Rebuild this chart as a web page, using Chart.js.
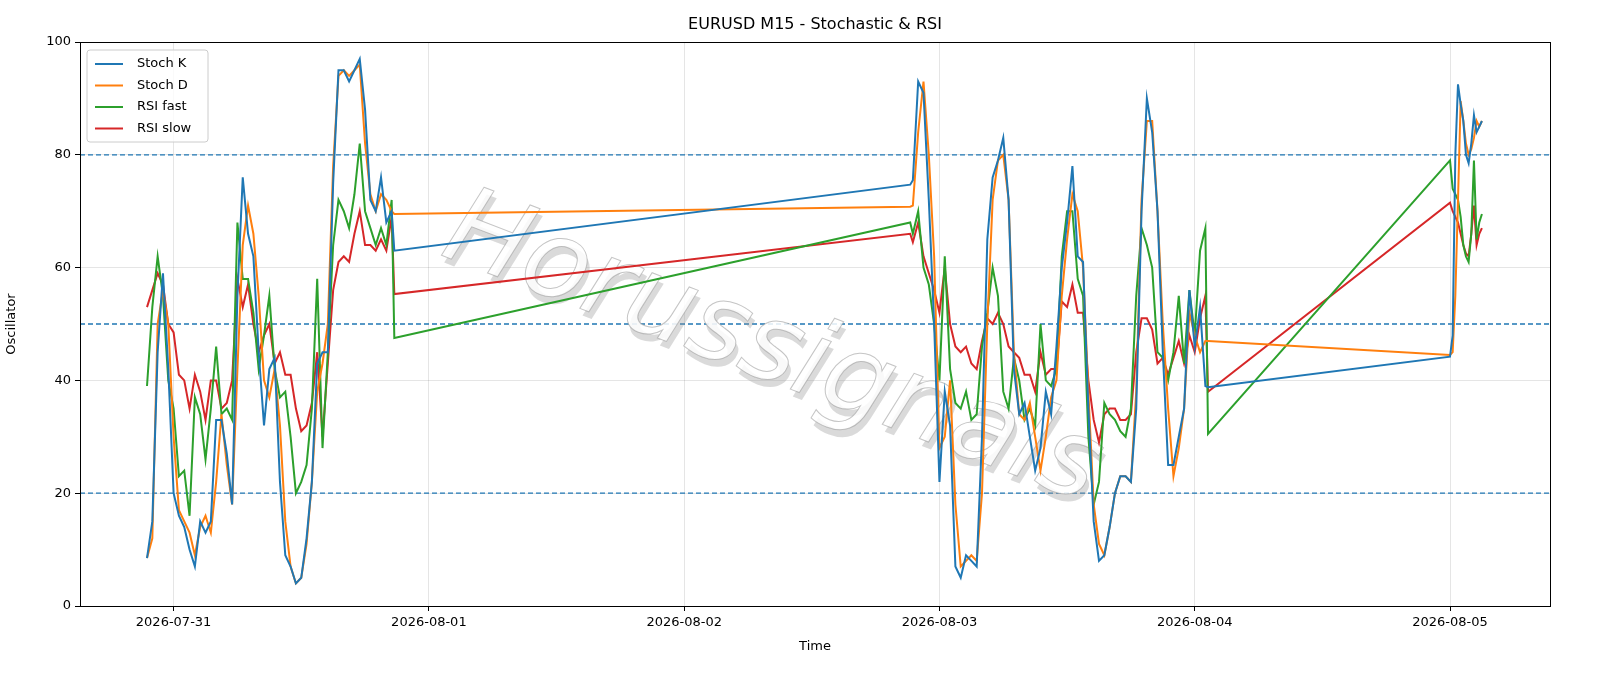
<!DOCTYPE html>
<html><head><meta charset="utf-8">
<script src="https://cdn.jsdelivr.net/npm/chart.js@4.4.1/dist/chart.umd.min.js"></script>
<style>html,body{margin:0;padding:0;background:#fff;overflow:hidden}#w{width:1600px;height:686px;position:relative}canvas{display:block}</style>
</head><body><div id="w"><canvas id="c"></canvas></div>
<script>
// hours since 2026-07-31 00:00
const times = [-2.5,-2,-1.5,-1,-0.5,0,0.5,1,1.5,2,2.5,3,3.5,4,4.5,5,5.5,6,6.5,7,7.5,8,8.5,9,9.5,10,10.5,11,11.5,12,12.5,13,13.5,14,14.5,15,15.5,16,16.5,17,17.5,18,18.5,19,19.5,20,20.5,20.75,
69.25,69.5,70,70.5,71,71.5,72,72.5,73,73.5,74,74.5,75,75.5,76,76.5,77,77.5,78,78.5,79,79.5,80,80.5,81,81.5,82,82.5,83,83.5,84,84.5,85,85.5,86,86.5,87,87.5,88,88.5,89,89.5,90,90.5,91,91.5,92,92.5,93,93.5,94,94.5,95,95.5,96,96.5,97,97.25,
120,120.25,120.5,120.75,121,121.25,121.5,121.75,122,122.25,122.5,122.75,123];
const stochK = [8.5,15,45,59,42,20,16,14,10,7,15,13,15,33,33,27,18,55,76,66,62,45,32,42,44,22,9,7,4,5,12,22,43,45,45,75,95,95,93,95,97,88,72,70,76,68,70,63,
74.7,75.5,93,91,72,50,22,38,32,7,5,9,8,7,30,65,76,79,83,72,42,34,36,30,24,28,38,34,46,60,68,78,62,61,35,15,8,9,14,20,23,23,22,35,70,90,84,70,45,25,25,30,35,56,46,53,39,38.8,
44.2,48,80,92.5,89,86,80,78.5,82,87,84,85,86];
const stochD = [8.5,12,50,56,50,30,17,15,13,9,14,16,13,22,34,25,18,42,64,71,66,55,40,37,42,32,15,7,4,5,11,22,38,43,50,78,94,95,94,95,96,82,73,70,73,72,70,69.5,
70.8,71,84,93,80,62,28,30,40,18,7,8,9,8,20,50,72,79,80,72,45,34,33,36,30,24,30,37,40,55,65,73,70,60,38,18,11,9,14,20,23,23,22,38,72,86,86,70,50,35,23,28,35,52,48,45,47,47,
44.5,45,55,72,89.5,86,82,80,81,83,86,85,86];
const rsiFast = [39,53,62,55,40,35,23,24,16,37,34,26,35,46,34,35,33,68,58,58,52,42,48,55,42,37,38,30,20,22,25,35,58,28,45,64,72,70,67,73,82,70,67,64,67,64,72,47.5,
68,66,70,60,57,50,40,62,42,36,35,38,33,34,46,52,60,55,38,35,44,40,33,35,32,50,40,39,42,62,70,70,58,55,30,18,22,36,34,33,31,30,35,55,67,64,60,45,44,40,45,55,43,56,48,63,67,30.5,
79,74,73,72,69,64,62,61,66,79,65,68,69.5];
const rsiSlow = [53,56,59,57,50,48.5,41,40,35,41,38,33,40,40,35,36,40,58,53,57,50,45,48,50,43,45,41,41,35,31,32,36,45,30,43,56,61,62,61,66,70,64,64,63,65,63,69,55.3,
66,64.5,68,62,59,56,52,60,50,46,45,46,43,42,47,51,50,52,50,46,45,44,41,41,38,45,41,42,42,54,53,57,52,52,40,33,29,34,35,35,33,33,34,45,51,51,49,43,44,41,44,47,43,48,45,51,55,38,
71.5,70,69,68,66,64,62.5,62,66,71,64,66,67];
const tickHours = [0,24,48,72,96,120];
const tickLabels = ['2026-07-31','2026-08-01','2026-08-02','2026-08-03','2026-08-04','2026-08-05'];
const levels = [20,50,80];
const seriesNames = ['Stoch K','Stoch D','RSI fast','RSI slow'];
const colors = ['#1f77b4','#ff7f0e','#2ca02c','#d62728'];
const FONT = 'DejaVu Sans';

const pts = arr => arr.map((v,i)=>({x:times[i],y:v}));
const allSeries = [stochK,stochD,rsiFast,rsiSlow];

const deco = {
  id:'deco',
  beforeDatasetsDraw(ch){
    const {ctx,chartArea:a,scales:{y}}=ch;
    ctx.save();
    ctx.strokeStyle='#1f77b4';ctx.lineWidth=1.3;ctx.setLineDash([5,3]);
    levels.forEach(l=>{const py=y.getPixelForValue(l);ctx.beginPath();ctx.moveTo(a.left,py);ctx.lineTo(a.right,py);ctx.stroke();});
    ctx.restore();
    ctx.save();
    ctx.translate(772,352);ctx.rotate(21*Math.PI/180);
    ctx.font='oblique 108px "DejaVu Sans"';ctx.textAlign='center';ctx.textBaseline='middle';
    ctx.fillStyle='rgba(150,150,150,0.35)';ctx.fillText('Horussignals',5,6);
    ctx.fillStyle='rgba(255,255,255,0.85)';ctx.fillText('Horussignals',0,0);
    ctx.strokeStyle='rgba(150,150,150,0.55)';ctx.lineWidth=1;ctx.strokeText('Horussignals',0,0);
    ctx.restore();
  },
  afterDraw(ch){
    const {ctx,chartArea:a}=ch;
    ctx.save();
    ctx.fillStyle='#000';ctx.font='16px "'+FONT+'"';ctx.textAlign='center';ctx.textBaseline='middle';
    ctx.fillText('EURUSD M15 - Stochastic & RSI',(a.left+a.right)/2,25);
    ctx.strokeStyle='#000';ctx.lineWidth=1;ctx.strokeRect(a.left+0.5,a.top+0.5,a.right-a.left,a.bottom-a.top);
    const lx=a.left+7,ly=a.top+8,w=121,h=92;
    ctx.fillStyle='rgba(255,255,255,0.8)';ctx.strokeStyle='#ccc';ctx.lineWidth=1;
    ctx.beginPath();ctx.roundRect(lx,ly,w,h,3);ctx.fill();ctx.stroke();
    ctx.font='13px "'+FONT+'"';ctx.textAlign='left';
    seriesNames.forEach((n,i)=>{const yy=ly+14+i*21.5;ctx.strokeStyle=colors[i];ctx.lineWidth=2;ctx.beginPath();ctx.moveTo(lx+8,yy);ctx.lineTo(lx+36,yy);ctx.stroke();ctx.fillStyle='#000';ctx.fillText(n,lx+50,yy);});
    ctx.restore();
  }
};

new Chart(document.getElementById('c'),{
  type:'line',
  data:{datasets:allSeries.map((s,i)=>({label:seriesNames[i],data:pts(s),borderColor:colors[i],borderWidth:2,pointRadius:0,tension:0,fill:false}))},
  options:{
    responsive:true,maintainAspectRatio:false,animation:false,devicePixelRatio:1,
    layout:{padding:{left:0,right:50,top:42,bottom:28}},
    plugins:{legend:{display:false},title:{display:false},tooltip:{enabled:false}},
    scales:{
      x:{type:'linear',min:-8.8,max:129.4,
        afterBuildTicks(s){s.ticks=tickHours.map(v=>({value:v}));},
        afterFit(s){s.height=52;},
        ticks:{autoSkip:false,maxRotation:0,color:'#000',font:{family:FONT,size:13},padding:4,callback:(v)=>tickLabels[tickHours.indexOf(v)]},
        grid:{color:'rgba(0,0,0,0.1)',drawTicks:true,tickLength:5,tickColor:'#000'},border:{color:'#000'},
        title:{display:true,text:'Time',color:'#000',font:{family:FONT,size:13},padding:{top:2}}},
      y:{min:0,max:100,
        afterBuildTicks(s){s.ticks=[0,20,40,60,80,100].map(v=>({value:v}));},
        afterFit(s){s.width=80;},
        ticks:{color:'#000',font:{family:FONT,size:13},padding:4},
        grid:{color:'rgba(0,0,0,0.1)',tickLength:5,tickColor:'#000'},border:{color:'#000'},
        title:{display:true,text:'Oscillator',color:'#000',font:{family:FONT,size:13},padding:{bottom:8}}}
    }
  },
  plugins:[deco]
});
</script></body></html>
